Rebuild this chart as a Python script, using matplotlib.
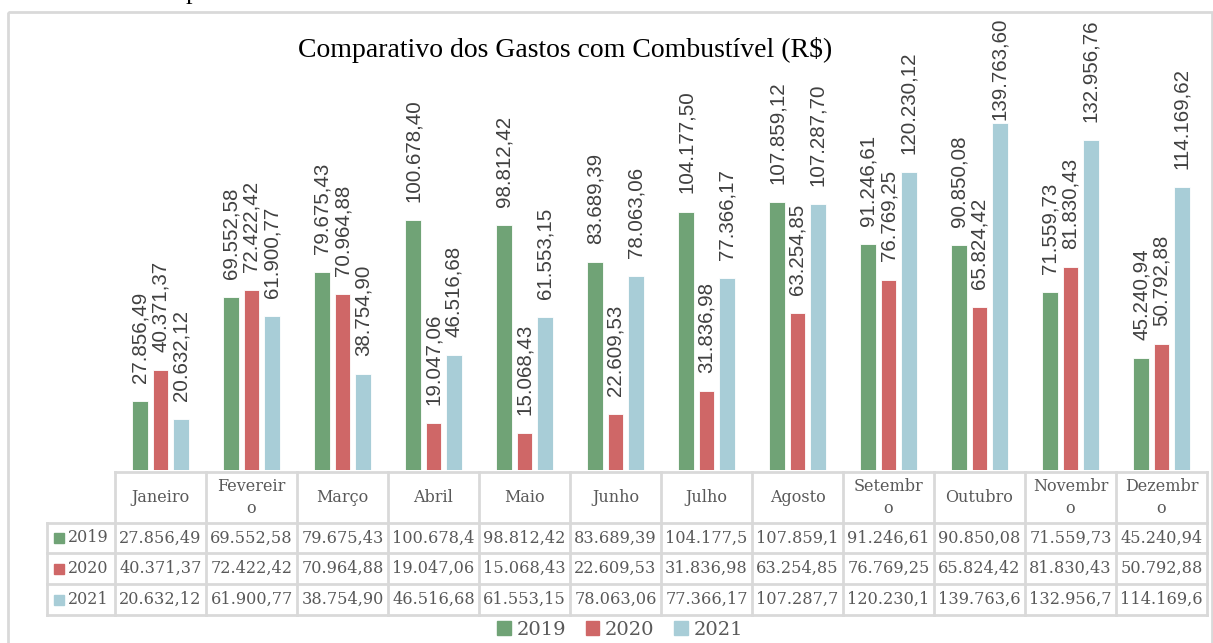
import matplotlib
matplotlib.use("Agg")
import matplotlib.pyplot as plt
from matplotlib.patches import Patch, Rectangle
import numpy as np

# ---- data ----
months = ["Janeiro", "Fevereir\no", "Março", "Abril", "Maio", "Junho", "Julho",
          "Agosto", "Setembr\no", "Outubro", "Novembr\no", "Dezembr\no"]
years = ["2019", "2020", "2021"]
v2019 = [27856.49, 69552.58, 79675.43, 100678.40, 98812.42, 83689.39, 104177.50,
         107859.12, 91246.61, 90850.08, 71559.73, 45240.94]
v2020 = [40371.37, 72422.42, 70964.88, 19047.06, 15068.43, 22609.53, 31836.98,
         63254.85, 76769.25, 65824.42, 81830.43, 50792.88]
v2021 = [20632.12, 61900.77, 38754.90, 46516.68, 61553.15, 78063.06, 77366.17,
         107287.70, 120230.12, 139763.60, 132956.76, 114169.62]
series = [v2019, v2020, v2021]
colors = ["#70A376", "#CF6767", "#A8CDD7"]
title = "Comparativo dos Gastos com Combustível (R$)"
caption = "Gráfico 3 - Comparativo dos Gastos com Combustível"

W, H = 1213, 643
fig = plt.figure(figsize=(W / 100, H / 100), dpi=100)
fig.patch.set_facecolor("white")


def br(v):
    s = f"{v:,.2f}"
    return s.replace(",", "X").replace(".", ",").replace("X", ".")


def fx(x):
    return x / W


def fy(y):
    return 1 - y / H


# overlay axes in pixel coords
ov = fig.add_axes([0, 0, 1, 1])
ov.set_xlim(0, W)
ov.set_ylim(H, 0)
ov.axis("off")

# outer frame
ov.add_patch(Rectangle((8, 12), 1203.5, 640, fill=False, ec="#D9D9D9", lw=2))
# partially visible caption at top (cut by the image edge, as in the source)
fig.text(fx(12), fy(-1), caption, family="Liberation Serif", fontsize=19,
         color="black", ha="left", va="baseline")

# bar axes
L, R, B, T = 115, 1207, 470, 73
ax = fig.add_axes([fx(L), fy(B), fx(R) - fx(L), fy(T) - fy(B)])
ax.set_xlim(-0.5, len(months) - 0.5)
ax.set_ylim(0, 160000)
ax.axis("off")
x = np.arange(len(months))
offs = [-0.225, 0, 0.225]
gap_pt = 13
labels = []
for s, vals, c, o in zip(years, series, colors, offs):
    ax.bar(x + o, vals, width=0.175, color=c, edgecolor="white", lw=0.6)
    for xi, v in zip(x, vals):
        a = ax.annotate(br(v), (xi + o, v), xytext=(0, gap_pt), textcoords="offset points",
                        rotation=90, ha="center", va="bottom", fontsize=14.8,
                        family="Liberation Sans", color="#404040", annotation_clip=False)
        labels.append(a)

fig.text(fx(565), fy(50), title, family="Liberation Serif", fontsize=20,
         ha="center", va="center", color="black")

# keep labels inside the chart area (push down if they would overflow)
fig.canvas.draw()
r = fig.canvas.get_renderer()
limit = H - 18
for a in labels:
    bb = a.get_window_extent(r)
    if bb.y1 > limit:
        d = (bb.y1 - limit) * 72 / fig.dpi
        a.xyann = (0, max(gap_pt - d, 1))

# ---- data table ----
gc = "#D9D9D9"
tc = "#595959"
tf = "DejaVu Serif"
colw = (R - L) / len(months)
rows_y = [472, 523, 553, 584, 615]
ov.plot([L, R], [rows_y[0], rows_y[0]], color=gc, lw=2)
for yy in rows_y[1:]:
    ov.plot([47, R], [yy, yy], color=gc, lw=2)
for i in range(len(months) + 1):
    xx = L + i * colw
    ov.plot([xx, xx], [rows_y[0], rows_y[-1]], color=gc, lw=2)
ov.plot([47, 47], [rows_y[1], rows_y[-1]], color=gc, lw=2)

for i, m in enumerate(months):
    cx = L + (i + 0.5) * colw
    ov.text(cx, (rows_y[0] + rows_y[1]) / 2, m, ha="center", va="center",
            family=tf, fontsize=11.5, color=tc, linespacing=1.4)
for rr, (s, vals, c) in enumerate(zip(years, series, colors)):
    cy = (rows_y[rr + 1] + rows_y[rr + 2]) / 2
    ov.add_patch(Rectangle((54, cy - 5), 10, 10, color=c))
    ov.text(68, cy, s, ha="left", va="center", family=tf, fontsize=11.5, color=tc)
    for i, v in enumerate(vals):
        cx = L + (i + 0.5) * colw
        ov.text(cx, cy, br(v)[:9], ha="center", va="center", family=tf,
                fontsize=11.6, color=tc)

# legend
handles = [Patch(color=c, label=s) for s, c in zip(years, colors)]
fig.legend(handles=handles, loc="center", bbox_to_anchor=(fx(620), fy(630)),
           ncol=3, frameon=False, prop={"family": tf, "size": 14},
           handlelength=0.7, handleheight=0.7, handletextpad=0.3,
           columnspacing=1.0, labelcolor=tc)

fig.savefig("out.png", dpi=100, facecolor="white")
